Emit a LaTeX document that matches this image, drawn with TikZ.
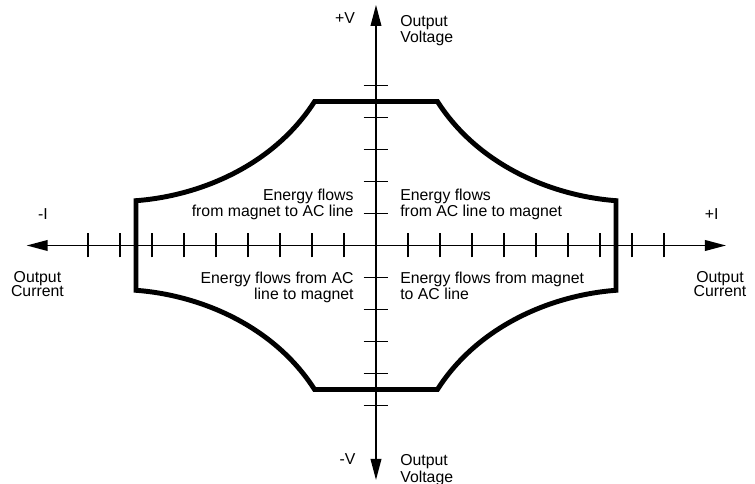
\documentclass[tikz,border=0pt]{standalone}
\usepackage{fontspec}
\setmainfont{Liberation Sans}
\usetikzlibrary{arrows.meta, positioning}
\tikzset{
    % main axes, with an arrow at both ends
    axis/.style={{Triangle[length=12pt, width=6pt]}-{Triangle[length=12pt, width=6pt]}, line width=1.1pt},
    % short scale marks across an axis
    tickmark/.style={line width=0.6pt},
    % operating limit of the supply, heavy outline
    limit/.style={line width=2.8pt, line join=miter},
    % region and axis labels
    note/.style={font=\fontsize{9}{8.2}\selectfont, inner sep=0pt},
}

\begin{document}
\begin{tikzpicture}[x=0.64cm, y=0.64cm]

    \useasboundingbox (-11.75,-7.453) rectangle (11.844,7.672);

    % --- axis ends ---
    \coordinate (iL) at (-10.92, 0);
    \coordinate (iR) at (10.94, 0);
    \coordinate (vT) at (0, 7.52);
    \coordinate (vB) at (0, -7.33);

    \draw[axis] (iL) -- (iR);
    \draw[axis] (vB) -- (vT);

    % scale marks on both axes
    \foreach \k in {1,...,9}{
        \draw[tickmark] (\k,-0.375) -- (\k,0.375);
        \draw[tickmark] (-\k,-0.375) -- (-\k,0.375);
    }
    \foreach \k in {1,...,5}{
        \draw[tickmark] (-0.39,\k) -- (0.39,\k);
        \draw[tickmark] (-0.39,-\k) -- (0.39,-\k);
    }

    % --- operating limit ---
    \draw[limit] (-7.5,-1.4) -- (-7.5,1.4)
        .. controls (-5.5,1.55) and (-3.2,2.5) .. (-1.92,4.5)
        -- (1.92,4.5)
        .. controls (3.2,2.5) and (5.5,1.55) .. (7.5,1.4)
        -- (7.5,-1.4)
        .. controls (5.5,-1.55) and (3.2,-2.5) .. (1.92,-4.5)
        -- (-1.92,-4.5)
        .. controls (-3.2,-2.5) and (-5.5,-1.55) .. (-7.5,-1.4)
        -- cycle;

    % --- quadrant notes ---
    \node[note, anchor=north east, align=right] (ulnote) at (-0.69, 1.79)
        {Energy flows\\from magnet to AC line};
    \node[note, anchor=north west, align=left] (urnote) at (0.75, 1.79)
        {Energy flows\\from AC line to magnet};
    \node[note, anchor=north east, align=right] (llnote) at (-0.69, -0.81)
        {Energy flows from AC\\line to magnet};
    \node[note, anchor=north west, align=left] (lrnote) at (0.75, -0.81)
        {Energy flows from magnet\\to AC line};

    % --- current axis labels ---
    \node[note, anchor=base] (negI) at (-10.41, 0.8) {-I};
    \node[note, anchor=base] (posI) at (10.49, 0.8) {+I};
    \node[note, anchor=north, align=center] (curL) at (-10.58, -0.8) {Output\\Current};
    \node[note, anchor=north, align=center] (curR) at (10.75, -0.8) {Output\\Current};

    % --- voltage axis labels ---
    \node[note, anchor=base] (posV) at (-0.97, 6.94) {+V};
    \node[note, anchor=north west, align=left] (voltT) at (0.75, 7.2) {Output\\Voltage};
    \node[note, anchor=base] (negV) at (-0.89, -6.84) {-V};
    \node[note, anchor=north west, align=left] (voltB) at (0.75, -6.52) {Output\\Voltage};

\end{tikzpicture}
\end{document}
